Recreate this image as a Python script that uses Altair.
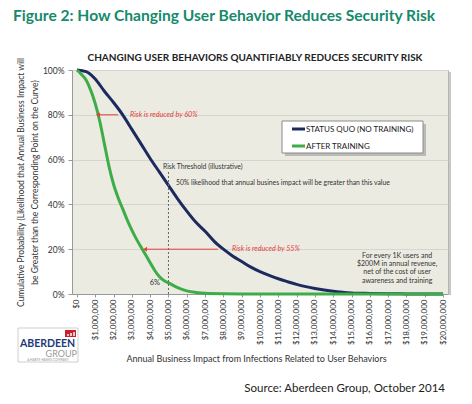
import altair as alt
import pandas as pd

# business impact in $ millions, cumulative probability in %
quo_m = [0, 0.5, 1, 1.5, 2, 2.5, 3, 3.5, 4, 4.5, 5, 5.5, 6, 6.5, 7, 7.5, 8, 8.5, 9, 9.5,
         10, 10.5, 11, 11.5, 12, 12.5, 13, 13.5, 14, 14.5, 15, 16, 17, 18, 19, 20]
quo_pct = [100, 99.3, 96, 90.5, 85.5, 80, 73.5, 67, 60.5, 54.5, 48.5, 42.5, 37, 32, 28, 23.5, 20, 17, 14.5, 12,
           10, 8.3, 6.8, 5.5, 4.3, 3.3, 2.5, 1.8, 1.2, 0.8, 0.5, 0.25, 0.1, 0.05, 0, 0]

train_m = [0, 0.25, 0.5, 0.75, 1, 1.25, 1.5, 1.75, 2, 2.25, 2.5, 2.75, 3, 3.25, 3.5, 3.75, 4, 4.25,
           4.5, 4.75, 5, 5.5, 6, 6.5, 7, 8, 9, 10, 12, 14, 16, 18, 20]
train_pct = [100, 98, 95.5, 91, 85, 77, 67, 57, 49, 43, 38, 33, 28.5, 24.5, 21, 17.5, 14, 10.5,
             7.8, 6, 5, 2.8, 1.4, 0.7, 0.3, 0.1, 0.05, 0, 0, 0, 0, 0, 0]

series = ['STATUS QUO (NO TRAINING)', 'AFTER TRAINING']
colors = ['#1c2a5e', '#3dad47']
tick_values = [i * 1_000_000 for i in range(21)]

# annotations (x in $ millions, y in %)
arrow_from = [2.25, 7.7]
arrow_to = [1.15, 3.72]
arrow_y = [80, 20]
arrow_text = ['Risk is reduced by 60%', 'Risk is reduced by 55%']
arrow_text_x = [2.9, 8.47]

threshold_text = ['Risk Threshold (illustrative)',
                  '50% likelihood that annual busines impact will be greater than this value']
threshold_text_x = [4.7, 5.41]
threshold_text_y = [56.7, 49.5]

note_lines = ['For every 1K users and', '$200M in annual revenue,',
              'net of the cost of user', 'awareness and training']
note_y = [17.0, 13.4, 9.8, 6.0]

FONT = 'Lato'
RED = '#e2413b'

curves = pd.concat([
    pd.DataFrame({'x': [m * 1e6 for m in quo_m], 'y': [p / 100 for p in quo_pct], 'series': series[0]}),
    pd.DataFrame({'x': [m * 1e6 for m in train_m], 'y': [p / 100 for p in train_pct], 'series': series[1]}),
])

x_scale = alt.Scale(domain=[-270000, 20270000], nice=False, zero=False)
y_scale = alt.Scale(domain=[0, 1], nice=False)

x_axis = alt.Axis(values=tick_values, format='$,.0f', labelAngle=270, labelFontSize=8,
                  labelFont=FONT, labelColor='#333333', labelPadding=2, tickSize=3,
                  tickColor='#999999', domainColor='#999999', grid=False,
                  titleFont=FONT, titleFontSize=9, titleFontWeight='normal',
                  titleColor='#333333', titleX=184, titleY=67, titleAlign='center',
                  titleBaseline='alphabetic')
y_axis = alt.Axis(values=[0, 0.2, 0.4, 0.6, 0.8, 1.0], format='.0%', labelFontSize=8.5,
                  labelFont=FONT, labelColor='#333333', labelPadding=4, tickSize=4,
                  tickColor='#999999', domainColor='#999999', gridColor='#d5d5d0',
                  titleFont=FONT, titleFontSize=8.5, titleFontWeight='normal',
                  titleColor='#333333', titleLineHeight=14, titleX=-56, titleY=112,
                  titleAngle=270, titleAlign='center', titleBaseline='top')
x_title = 'Annual Business Impact from Infections Related to User Behaviors'
y_title = ['Cumulative Probability (Likelihood that Annual Business Impact will',
           'be Greater than the Corresponding Point on the Curve)']


def X(field='x'):
    return alt.X(field, type='quantitative', scale=x_scale, axis=x_axis, title=x_title)


def Y(field='y'):
    return alt.Y(field, type='quantitative', scale=y_scale, axis=y_axis, title=y_title)


def pixel_text(text, x, y, size, align='left', color='#222222', weight='normal', font=FONT):
    return alt.Chart(pd.DataFrame({'t': [text]})).mark_text(
        align=align, baseline='alphabetic', fontSize=size, color=color,
        fontWeight=weight, font=font
    ).encode(x=alt.value(x), y=alt.value(y), text='t:N')


def pixel_rect(x, x2, y, y2, fill, stroke=None, opacity=1):
    kw = dict(fill=fill, opacity=opacity)
    if stroke:
        kw.update(stroke=stroke, strokeWidth=1)
    return alt.Chart(pd.DataFrame({'a': [0]})).mark_rect(**kw).encode(
        x=alt.value(x), x2=alt.value(x2), y=alt.value(y), y2=alt.value(y2))


def pixel_rule(x, x2, y, y2, color, width):
    return alt.Chart(pd.DataFrame({'a': [0]})).mark_rule(color=color, strokeWidth=width).encode(
        x=alt.value(x), x2=alt.value(x2), y=alt.value(y), y2=alt.value(y2))


lines = alt.Chart(curves).mark_line(strokeWidth=3, interpolate='monotone').encode(
    x=X(), y=Y(),
    color=alt.Color('series:N', scale=alt.Scale(domain=series, range=colors), legend=None),
)

arrows = pd.DataFrame({'x': [v * 1e6 for v in arrow_from], 'x2': [v * 1e6 for v in arrow_to],
                       'y': [v / 100 for v in arrow_y], 'tx': [v * 1e6 for v in arrow_text_x],
                       'text': arrow_text})
arrow_rules = alt.Chart(arrows).mark_rule(color=RED, strokeWidth=1).encode(
    x=X(), x2='x2', y=Y())
arrow_heads = alt.Chart(arrows).mark_point(shape='triangle-left', filled=True, color=RED,
                                           size=22, opacity=1).encode(x=X('x2'), y=Y())
arrow_labels = alt.Chart(arrows).mark_text(align='left', baseline='middle', fontSize=7.2,
                                           fontStyle='italic', color=RED, font=FONT).encode(
    x=X('tx'), y=Y(), text='text:N')

threshold = alt.Chart(pd.DataFrame({'x': [5e6], 'y': [0.0], 'y2': [0.545]})).mark_rule(
    color='#666666', strokeWidth=1, strokeDash=[2, 2]).encode(x=X(), y=Y(), y2='y2')

threshold_labels = alt.Chart(pd.DataFrame({
    'x': [v * 1e6 for v in threshold_text_x], 'y': [v / 100 for v in threshold_text_y],
    'text': threshold_text})).mark_text(
    align='left', baseline='middle', fontSize=6.8, color='#333333', font=FONT).encode(
    x=X(), y=Y(), text='text:N')

six_pct = alt.Chart(pd.DataFrame({'x': [4.26e6], 'y': [0.049], 'text': ['6%']})).mark_text(
    align='center', baseline='middle', fontSize=7.5, color='#333333', font=FONT).encode(
    x=X(), y=Y(), text='text:N')

note = alt.Chart(pd.DataFrame({'x': [17.49e6] * 4, 'y': [v / 100 for v in note_y], 'text': note_lines})).mark_text(
    align='center', baseline='middle', fontSize=7, color='#333333', font=FONT).encode(
    x=X(), y=Y(), text='text:N')

# plot-area shadow on the right edge
plot_shadow = pixel_rule(378, 378, 2, 225, '#c9c9c4', 2)

# legend box
legend_shadow = pixel_rect(213, 354, 54, 86, '#9a9a9a', opacity=0.6)
legend_box = pixel_rect(210, 351, 51, 83, 'white', stroke='#8a8a8a')
legend_quo = pixel_rule(220, 233, 59, 59, colors[0], 3)
legend_train = pixel_rule(220, 233, 76, 76, colors[1], 3)
legend_quo_text = pixel_text(series[0], 234, 62, 8)
legend_train_text = pixel_text(series[1], 234, 79, 8)

# titles and logo
title = pixel_text('Figure 2: How Changing User Behavior Reduces Security Risk', -59, -49.5, 15.6,
                   color='#168a6c', weight='bold')
subtitle = pixel_text('CHANGING USER BEHAVIORS QUANTIFIABLY REDUCES SECURITY RISK', 183, -9, 10,
                      align='center', weight='bold')
source = pixel_text('Source: Aberdeen Group, October 2014', 373, 322, 11.5, align='right')

logo_box = pixel_rect(-54, 6, 258, 292, 'white', stroke='#cfcfcf')
logo_icon = pixel_rect(-7, 4, 260, 267, '#c8202f')
logo_bar1 = pixel_rule(-4, -4, 264, 266, 'white', 1.5)
logo_bar2 = pixel_rule(-1, -1, 263, 266, 'white', 1.5)
logo_bar3 = pixel_rule(2, 2, 262, 266, 'white', 1.5)
logo_name = pixel_text('ABERDEEN', -52, 277, 10.5, color='#1d3b78', weight='bold')
logo_group = pixel_text('GROUP', 5, 286.5, 9, align='right', color='#9a9a9a')
logo_tag = pixel_text('A HARTE HANKS COMPANY', -24, 291, 3.2, align='center', color='#9a9a9a')

chart = alt.layer(
    lines, threshold, arrow_rules, arrow_heads, arrow_labels, threshold_labels, six_pct, note,
    plot_shadow, legend_shadow, legend_box, legend_quo, legend_train, legend_quo_text, legend_train_text,
    title, subtitle, source, logo_box, logo_icon, logo_bar1, logo_bar2, logo_bar3,
    logo_name, logo_group, logo_tag
).properties(
    width=376, height=224,
    autosize=alt.AutoSizeParams(type='none'),
    padding={'left': 64, 'top': 62, 'right': 16, 'bottom': 102},
    background='white',
).configure_view(
    fill='#ecebe2', stroke='#b5b5b5', strokeWidth=1
)

chart.save("out.html", embed_options={"renderer": "svg", "actions": False})
